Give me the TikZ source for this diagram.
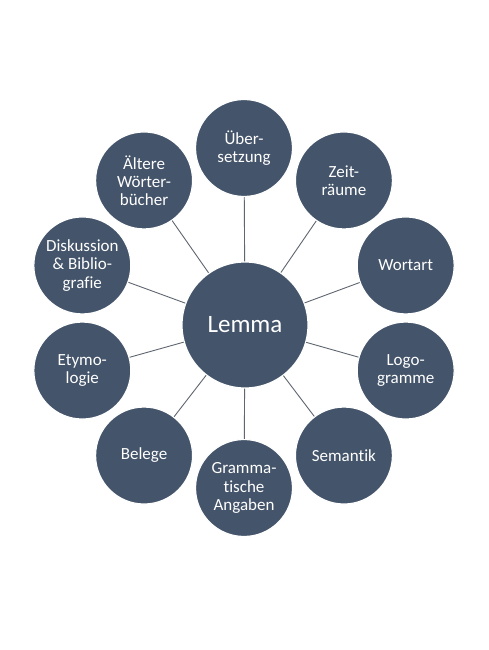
\documentclass[tikz,border=0pt]{standalone}
\usepackage{fontspec}
\setmainfont[Ligatures={NoCommon}]{Carlito}
\usetikzlibrary{calc}
\begin{document}
\begin{tikzpicture}[x=1pt,y=1pt,
  bubble/.style={circle,fill=bubblecol,draw=white,line width=1.2pt,minimum size=97pt,inner sep=0pt,
    text=white,align=center,font=\fontsize{17}{18.2}\selectfont},
  hub/.style={bubble,minimum size=126pt,font=\fontsize{25}{29}\selectfont},
  link/.style={draw=linkcol,line width=0.9pt}]
\definecolor{bubblecol}{HTML}{44546A}
\definecolor{linkcol}{HTML}{5F6670}
\useasboundingbox[fill=white] (0,0) rectangle (488,650);
\def\R{170}
\coordinate (c) at (244,332);
\node[hub] (L) at (245,325) {Lemma};
\node[bubble] (s1) at ($(c)+(90:\R)$) {Über-\\setzung};
\node[bubble] (s2) at ($(c)+(54:\R)$) {Zeit-\\räume};
\node[bubble] (s3) at ($(c)+(18:\R)$) {Wortart};
\node[bubble] (s4) at ($(c)+(-18:\R)$) {Logo-\\gramme};
\node[bubble] (s5) at ($(c)+(-54:\R)$) {Semantik};
\node[bubble] (s6) at ($(c)+(-90:\R)$) {Gramma-\\tische\\Angaben};
\node[bubble] (s7) at ($(c)+(-126:\R)$) {Belege};
\node[bubble] (s8) at ($(c)+(-162:\R)$) {Etymo-\\logie};
\node[bubble] (s9) at ($(c)+(162:\R)$) {Diskussion\\\& Biblio-\\grafie};
\node[bubble] (s10) at ($(c)+(126:\R)$) {Ältere\\Wörter-\\bücher};
\foreach \i in {1,...,10} {\draw[link] (L) -- (s\i);}
\end{tikzpicture}
\end{document}
